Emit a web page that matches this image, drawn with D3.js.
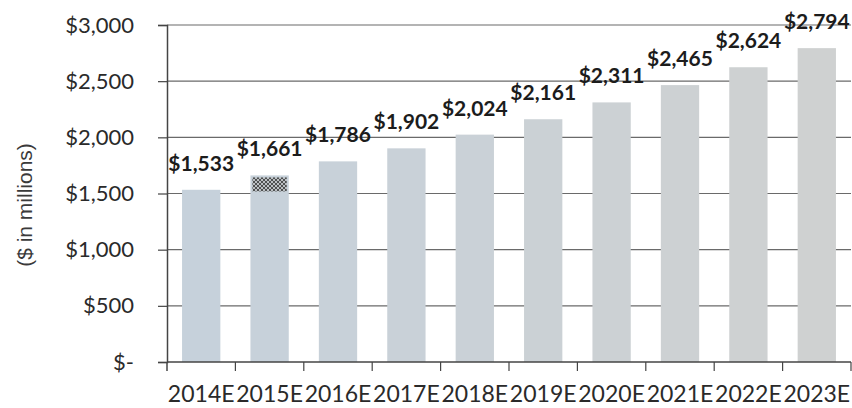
<!DOCTYPE html>
<html>
<head>
<meta charset="utf-8">
<script src="https://cdn.jsdelivr.net/npm/d3@7"></script>
<style>
  html, body { margin: 0; padding: 0; background: #fff; }
  svg { display: block; }
</style>
</head>
<body>
<div id="chart"></div>
<script>
// Annual revenue projection, $ in millions
const years = ["2014E", "2015E", "2016E", "2017E", "2018E", "2019E", "2020E", "2021E", "2022E", "2023E"];
const revenue = [1533, 1661, 1786, 1902, 2024, 2161, 2311, 2465, 2624, 2794];
const yTicks = [0, 500, 1000, 1500, 2000, 2500, 3000];
const yTitle = "($ in millions)";
// year whose bar top carries a scribbled-over stamp
const stampedYear = "2015E";

const W = 852, H = 408;
const plot = { left: 167, right: 851, top: 25, bottom: 362 };

const svg = d3.select("#chart").append("svg")
  .attr("width", W).attr("height", H);

// cross-hatched texture for the stamped patch
const defs = svg.append("defs");
const pat = defs.append("pattern")
  .attr("id", "scribble")
  .attr("patternUnits", "userSpaceOnUse")
  .attr("width", 4).attr("height", 4);
pat.append("rect").attr("width", 4).attr("height", 4).attr("fill", "#b9bcbf");
pat.append("path").attr("d", "M0,0L4,4M4,0L0,4").attr("stroke", "#2b2b2b").attr("stroke-width", 0.9);

const x = d3.scaleBand()
  .domain(years)
  .range([plot.left, plot.right])
  .paddingInner(0.44)
  .paddingOuter(0.22);

const y = d3.scaleLinear()
  .domain([0, 3000])
  .range([plot.bottom, plot.top]);

// bars shade from a cool blue-grey to a neutral grey
const shade = d3.scaleLinear()
  .domain([0, years.length - 1])
  .range(["#c6d1db", "#cfd1d1"]);

const labelFont = "Lato, 'Open Sans', sans-serif";
const fmtMoney = v => v === 0 ? "$-" : "$" + d3.format(",")(v);

// horizontal gridlines
svg.append("g")
  .selectAll("line")
  .data(yTicks.filter(v => v > 0))
  .join("line")
  .attr("x1", plot.left).attr("x2", plot.right)
  .attr("y1", d => y(d)).attr("y2", d => y(d))
  .attr("stroke", "#6a6a6a")
  .attr("stroke-width", 1.2);

// bars
svg.append("g")
  .selectAll("rect")
  .data(revenue)
  .join("rect")
  .attr("x", (d, i) => x(years[i]))
  .attr("width", x.bandwidth())
  .attr("y", d => y(d))
  .attr("height", d => y(0) - y(d))
  .attr("fill", (d, i) => shade(i));

// scribbled patch across the top of the stamped bar
const si = years.indexOf(stampedYear);
svg.append("rect")
  .attr("x", x(stampedYear) + 2)
  .attr("width", x.bandwidth() - 4)
  .attr("y", y(revenue[si]) + 2)
  .attr("height", 14)
  .attr("fill", "url(#scribble)")
  .attr("opacity", 0.85);

// y axis
const yAxis = svg.append("g")
  .attr("transform", `translate(${plot.left},0)`)
  .call(d3.axisLeft(y).tickValues(yTicks).tickFormat(fmtMoney).tickSize(9).tickPadding(24));
yAxis.select(".domain").attr("stroke", "#444").attr("stroke-width", 1.5);
yAxis.selectAll(".tick line").attr("stroke", "#444").attr("stroke-width", 1.2);
yAxis.selectAll(".tick text")
  .attr("font-family", labelFont)
  .attr("font-size", 22)
  .attr("fill", "#2a2a2a");

// x axis: ticks sit on the boundaries between categories
const step = x.step();
const gap = (step - x.bandwidth()) / 2;
const xAxis = svg.append("g").attr("transform", `translate(0,${plot.bottom})`);
xAxis.append("line")
  .attr("x1", plot.left).attr("x2", plot.right)
  .attr("stroke", "#444").attr("stroke-width", 1.5);
xAxis.selectAll("line.tick")
  .data(years)
  .join("line")
  .attr("class", "tick")
  .attr("x1", d => x(d) + x.bandwidth() + gap)
  .attr("x2", d => x(d) + x.bandwidth() + gap)
  .attr("y1", 0).attr("y2", 9)
  .attr("stroke", "#444").attr("stroke-width", 1.2);
xAxis.append("line")
  .attr("x1", plot.left).attr("x2", plot.left)
  .attr("y1", 0).attr("y2", 9)
  .attr("stroke", "#444").attr("stroke-width", 1.5);
xAxis.selectAll("text")
  .data(years)
  .join("text")
  .attr("x", d => x(d) + x.bandwidth() / 2)
  .attr("y", 40)
  .attr("text-anchor", "middle")
  .attr("font-family", labelFont)
  .attr("font-size", 23)
  .attr("fill", "#2a2a2a")
  .text(d => d);

// value labels above bars
svg.append("g")
  .selectAll("text")
  .data(revenue)
  .join("text")
  .attr("x", (d, i) => x(years[i]) + x.bandwidth() / 2)
  .attr("y", d => y(d) - 19)
  .attr("text-anchor", "middle")
  .attr("font-family", labelFont)
  .attr("font-weight", "bold")
  .attr("font-size", 21)
  .attr("fill", "#1c1c1c")
  .text(d => fmtMoney(d));

// y axis title
svg.append("text")
  .attr("transform", `translate(32,205) rotate(-90)`)
  .attr("text-anchor", "middle")
  .attr("font-family", "'Liberation Sans', Arial, sans-serif")
  .attr("font-size", 21)
  .attr("fill", "#3a3a3a")
  .text(yTitle);
</script>
</body>
</html>
